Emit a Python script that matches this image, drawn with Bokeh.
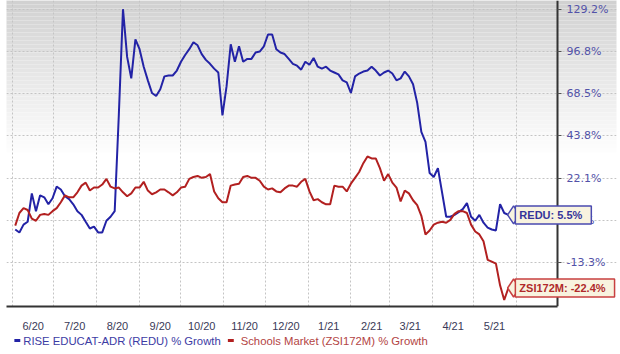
import pandas as pd
from bokeh.plotting import figure
from bokeh.layouts import column
from bokeh.models import (FixedTicker, CustomJSTickFormatter, Label, BoxAnnotation, Range1d,
                          ColumnDataSource)
from bokeh.core.properties import value
from bokeh.embed import file_html
from bokeh.resources import INLINE

# ---- data ----
dates = pd.date_range("2020-06-03", periods=120, freq="3D")

redu = [-0.6, -1.8, 1.4, 2.6, 15.0, 7.1, 14.1, 13.2, 10.1, 12.8,
        18.1, 16.8, 13.7, 12.4, 10.1, 7.1, 5.5, 2.6, -0.2, 0.6,
        -1.8, -1.8, 3.0, 4.7, 7.1, 56.0, 129.2, 93.0, 78.4, 105.6,
        98.5, 86.2, 77.1, 69.0, 67.1, 71.4, 79.7, 80.3, 80.3, 83.6,
        89.6, 94.3, 98.5, 103.5, 101.3, 95.0, 90.9, 88.2, 84.9, 82.3,
        55.4, 73.3, 102.0, 89.6, 100.6, 89.6, 91.6, 91.6, 96.1, 96.8,
        100.6, 109.3, 109.3, 98.5, 96.1, 95.0, 91.6, 88.2, 86.9, 84.2,
        89.6, 87.5, 92.3, 86.2, 84.9, 86.2, 83.6, 82.3, 81.0, 77.1,
        75.8, 69.0, 79.7, 81.6, 82.9, 83.6, 86.2, 83.6, 80.3, 82.3,
        83.6, 81.6, 77.1, 78.4, 82.9, 79.7, 74.6, 62.9, 46.0, 40.6,
        24.6, 22.7, 27.0, 15.5, 4.7, 4.7, 5.5, 6.7, 8.0, 10.6,
        4.7, 3.0, 5.5, 2.2, 0.2, -0.6, -1.0, 10.2, 6.3, 5.5]

zsi = [1.0, 6.3, 8.4, 7.6, 3.9, 3.0, 5.5, 5.9, 5.5, 7.1,
       8.4, 11.0, 14.1, 13.2, 13.2, 15.5, 18.6, 20.0, 16.3, 17.7,
       17.7, 19.1, 21.8, 18.1, 17.3, 17.7, 15.5, 13.7, 15.0, 17.7,
       17.7, 20.4, 16.3, 14.6, 15.5, 16.8, 16.8, 15.5, 14.1, 15.5,
       17.7, 18.1, 21.8, 22.7, 23.2, 22.3, 22.7, 24.1, 15.9, 12.8,
       11.0, 11.0, 18.6, 19.1, 19.5, 22.7, 23.2, 22.3, 22.3, 20.9,
       18.1, 16.8, 17.3, 15.9, 15.5, 17.3, 18.6, 18.6, 18.1, 20.4,
       21.8, 15.9, 11.9, 12.4, 11.0, 10.1, 10.1, 18.6, 18.1, 18.1,
       15.9, 19.5, 22.3, 25.1, 29.5, 32.9, 31.9, 31.9, 27.0, 20.9,
       24.1, 20.0, 17.7, 11.4, 16.3, 15.0, 11.9, 9.7, 5.1, -2.6,
       -1.0, 1.4, 2.2, 2.6, 2.2, 3.4, 5.9, 7.1, 7.1, 6.3,
       1.4, -1.4, -2.6, -5.3, -12.4, -13.1, -13.8, -21.5, -26.4, -22.4]

y_ticks = [129.2, 96.8, 68.5, 43.8, 22.1, 3.1, -13.3]
month_starts = pd.date_range("2020-06-01", "2021-06-01", freq="MS")
month_labels = ["6/20", "7/20", "8/20", "9/20", "10/20", "11/20",
                "12/20", "1/21", "2/21", "3/21", "4/21", "5/21"]
series_names = ["RISE EDUCAT-ADR (REDU) % Growth", "Schools Market (ZSI172M) % Growth"]
badge_texts = ["REDU: 5.5%", "ZSI172M: -22.4%"]

SHIFT = 130.0  # the chart's percentage axis is logarithmic in (growth + 130)

BLUE = "#2323a6"
RED = "#b22020"
FONT = "Liberation Sans"

x_start = pd.Timestamp("2020-05-27 16:00")
axis_loc = pd.Timestamp("2021-06-30 14:00")   # where the right-hand axis sits
x_end = pd.Timestamp("2021-08-12 07:00")       # room for the end-value badges


def ms(ts):
    return ts.value // 10**6


label_dates = month_starts[:-1] + pd.Timedelta(days=15)

p = figure(width=620, height=334, x_axis_type="datetime", y_axis_type="log",
           y_axis_location="right", output_backend="svg", toolbar_location=None,
           x_range=Range1d(x_start, x_end), y_range=Range1d(101.5, 266.4),
           min_border_left=6, min_border_right=4, min_border_top=0, min_border_bottom=20)
p.outline_line_color = None
p.background_fill_color = "white"
p.border_fill_color = "white"

# background gradient (grey at top fading to white)
n_strips = 40
for k in range(n_strips):
    c = int(min(255, 207 + 48 * k / n_strips))
    p.add_layout(BoxAnnotation(left=-10, right=640, left_units="screen", right_units="screen",
                               top=314 - 4 * k, bottom=314 - 4 * k - 4,
                               top_units="screen", bottom_units="screen",
                               fill_color=(c, c, c), fill_alpha=1.0, line_color=None,
                               level="image"))

p.line(dates, [v + SHIFT for v in redu], line_color=BLUE, line_width=2)
p.line(dates, [v + SHIFT for v in zsi], line_color=RED, line_width=2)

# right-hand percentage axis, pinned where the reference draws it
ya = p.yaxis[0]
ya.fixed_location = ms(axis_loc)
ya.ticker = FixedTicker(ticks=[t + SHIFT for t in y_ticks])
ya.formatter = CustomJSTickFormatter(code="return '';")
ya.axis_line_width = 2
ya.axis_line_color = "#333333"
ya.major_tick_out = 4
ya.major_tick_in = 0
ya.major_tick_line_color = "#555555"
ya.minor_tick_line_color = None
ya.major_label_standoff = 0

tick_src = ColumnDataSource(dict(x=[axis_loc] * len(y_ticks),
                                 y=[t + SHIFT for t in y_ticks],
                                 t=[f"{t:.1f}%" for t in y_ticks]))
p.text(x="x", y="y", text="t", source=tick_src, x_offset=9,
       text_baseline="middle", text_align="left", text_font=value("DejaVu Sans"),
       text_font_size="11px", text_color="#5252a8")

# x axis (bottom)
xa = p.xaxis[0]
xa.bounds = (ms(x_start), ms(axis_loc))
xa.ticker = FixedTicker(ticks=[ms(d) for d in label_dates])
xa.major_label_overrides = {ms(d): lab for d, lab in zip(label_dates, month_labels)}
xa.axis_line_width = 2
xa.axis_line_color = "#333333"
xa.major_tick_line_color = None
xa.minor_tick_line_color = None
xa.major_label_standoff = 7
xa.major_label_text_font = FONT
xa.major_label_text_font_size = "11px"
xa.major_label_text_color = "#3a3a58"

# grids
p.xgrid.ticker = FixedTicker(ticks=[ms(d) for d in month_starts])
p.ygrid.bounds = (ms(x_start), ms(axis_loc))
for g in (p.xgrid[0], p.ygrid[0]):
    g.grid_line_color = "#c4c4c4"
    g.grid_line_dash = "2 2"
    g.grid_line_width = 1

# end-value badges (pointed left end + box with the value)
BADGE_FILL = "#f8f3df"
badge_src = ColumnDataSource(dict(x=[dates[-1] + pd.Timedelta(days=3.8)] * 2,
                                  y=[redu[-1] + SHIFT, zsi[-1] + SHIFT],
                                  lc=["#4a4ab0", "#c84040"]))
p.scatter(x="x", y="y", source=badge_src, marker="diamond", size=18,
          fill_color=BADGE_FILL, line_color="lc", line_width=1.5)
for txt, vals, col, bcol in ((badge_texts[0], redu, "#34349a", "#4a4ab0"),
                             (badge_texts[1], zsi, "#b02a2a", "#c84040")):
    p.add_layout(Label(x=dates[-1], y=vals[-1] + SHIFT, x_offset=7, text=txt,
                       text_baseline="middle", text_align="left",
                       text_font=FONT, text_font_style="bold",
                       text_font_size="11px", text_color=col,
                       background_fill_color=BADGE_FILL, background_fill_alpha=1.0,
                       border_line_color=bcol, border_line_width=1.5,
                       padding=dict(left=4, right=9, top=3, bottom=3)))

# legend strip below the chart
leg = figure(width=620, height=20, x_range=Range1d(0, 620), y_range=Range1d(0, 20),
             output_backend="svg", toolbar_location=None,
             x_axis_location=None, y_axis_location=None,
             min_border_left=0, min_border_right=0, min_border_top=0, min_border_bottom=0)
leg.outline_line_color = None
leg.xgrid.visible = False
leg.ygrid.visible = False
leg_src = ColumnDataSource(dict(x0=[8, 225], x1=[14, 231], y=[14, 14],
                                tx=[17, 238], t=series_names,
                                lc=[BLUE, RED], tc=["#3c3ca4", "#b34444"]))
leg.segment(x0="x0", y0="y", x1="x1", y1="y", line_color="lc", line_width=3, source=leg_src)
leg.text(x="tx", y="y", text="t", text_color="tc", source=leg_src,
         text_baseline="middle", text_font=value(FONT), text_font_size="11.3px")

layout = column(p, leg, spacing=0)
open("out.html", "w").write(file_html(layout, INLINE))
